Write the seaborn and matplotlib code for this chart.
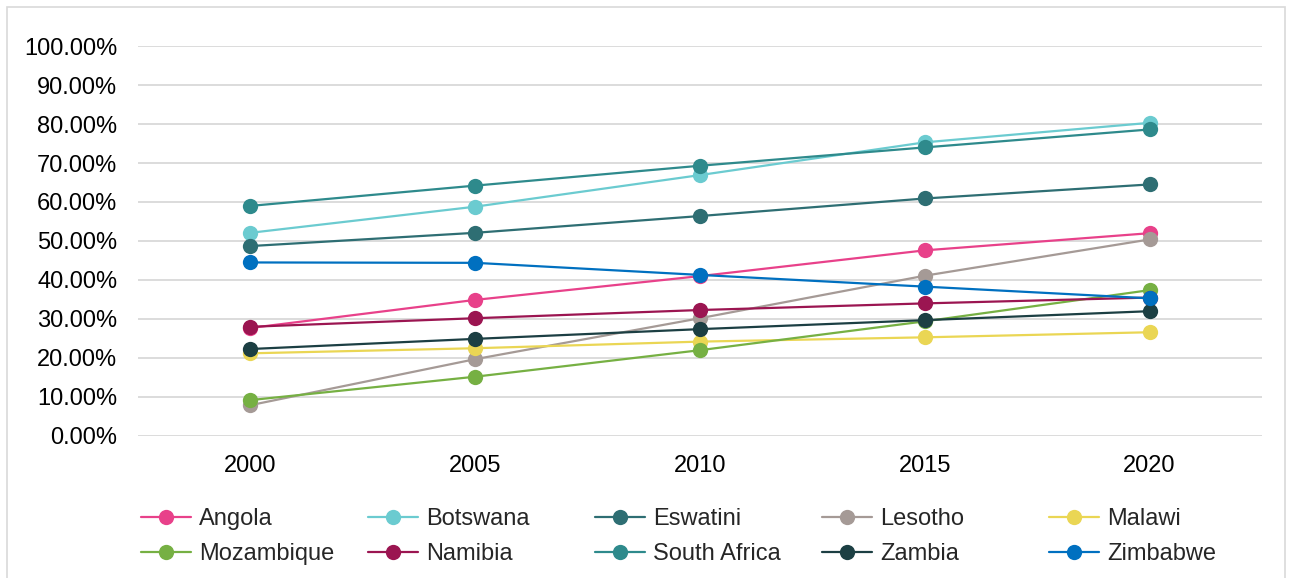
import pandas as pd
import seaborn as sns
import matplotlib.pyplot as plt
from matplotlib.patches import Rectangle
from matplotlib.ticker import PercentFormatter

years = [2000, 2005, 2010, 2015, 2020]
countries = ["Angola", "Botswana", "Eswatini", "Lesotho", "Malawi",
             "Mozambique", "Namibia", "South Africa", "Zambia", "Zimbabwe"]

# urban population share (%)
angola = [27.7, 34.9, 41.0, 47.6, 52.0]
botswana = [52.1, 58.8, 66.9, 75.3, 80.3]
eswatini = [48.7, 52.1, 56.4, 60.9, 64.5]
lesotho = [7.9, 19.7, 30.2, 41.1, 50.4]
malawi = [21.2, 22.5, 24.2, 25.3, 26.6]
mozambique = [9.2, 15.2, 22.0, 29.4, 37.4]
namibia = [28.0, 30.2, 32.3, 34.0, 35.5]
south_africa = [59.0, 64.2, 69.3, 74.0, 78.6]
zambia = [22.3, 24.9, 27.4, 29.7, 32.0]
zimbabwe = [44.5, 44.4, 41.3, 38.3, 35.3]

colors = ["#E8418A", "#6BCBD0", "#2E6E73", "#A59A96", "#EAD654",
          "#76B043", "#9B1551", "#2E8A8C", "#1C3F43", "#0070C0"]

series = [angola, botswana, eswatini, lesotho, malawi,
          mozambique, namibia, south_africa, zambia, zimbabwe]
rows = []
for name, vals in zip(countries, series):
    for yr, v in zip(years, vals):
        rows.append({"year": yr, "value": v, "country": name})
df = pd.DataFrame(rows)

sns.set_theme(style="white")
plt.rcParams["font.family"] = ["Liberation Sans", "DejaVu Sans"]

fig = plt.figure(figsize=(12.92, 5.78), dpi=100)
ax = fig.add_axes([0.1068, 0.2457, 0.87, 0.6747])

sns.lineplot(data=df, x="year", y="value", hue="country", hue_order=countries,
             palette=colors, marker="o", markersize=11, markeredgewidth=0,
             linewidth=1.6, ax=ax)

ax.set_xlim(1997.5, 2022.5)
ax.set_ylim(0, 100)
ax.set_xticks(years)
ax.set_yticks(range(0, 101, 10))
ax.yaxis.set_major_formatter(PercentFormatter(decimals=2))
ax.tick_params(axis="both", length=0, labelsize=17, colors="#000000")
ax.tick_params(axis="y", pad=15)
ax.tick_params(axis="x", pad=14)
ax.grid(axis="y", color="#D9D9D9", linewidth=1.3)
ax.set_axisbelow(True)
ax.set_xlabel("")
ax.set_ylabel("")
sns.despine(ax=ax, left=True, bottom=True)

handles, labels = ax.get_legend_handles_labels()
ax.get_legend().remove()

# one legend per column so the columns sit on a fixed grid like the original
col_x = [141, 368, 595, 822, 1049]
for j, x in enumerate(col_x):
    leg = fig.legend([handles[j], handles[j + 5]], [labels[j], labels[j + 5]],
                     loc="upper left", bbox_to_anchor=(x / 1292, 1 - 508 / 578),
                     frameon=False, fontsize=17, handlelength=2.1,
                     handletextpad=0.35, labelspacing=0.56, borderpad=0,
                     borderaxespad=0)

fig.add_artist(Rectangle((7 / 1292, -0.01), 1278 / 1292, 1 - 7 / 578 + 0.01,
                         transform=fig.transFigure, fill=False,
                         edgecolor="#D9D9D9", linewidth=1.2))

fig.savefig("out.png", dpi=100)
